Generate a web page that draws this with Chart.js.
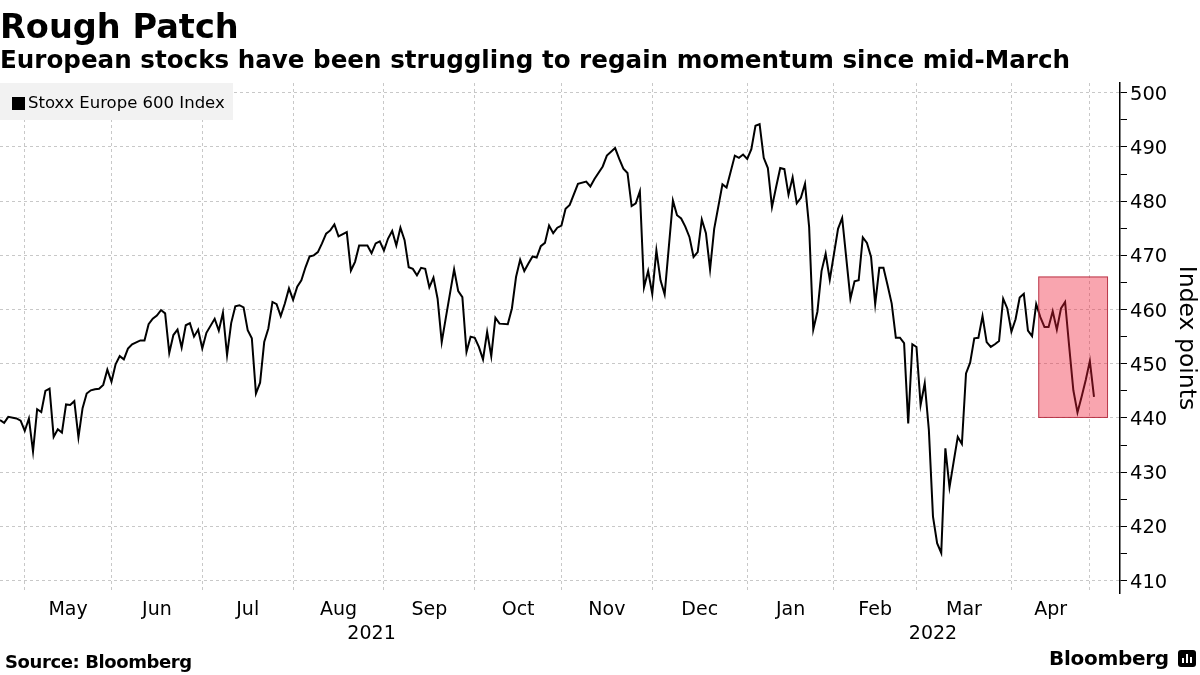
<!DOCTYPE html>
<html>
<head>
<meta charset="utf-8">
<script src="https://cdn.jsdelivr.net/npm/chart.js@4"></script>
<style>
  html, body { margin: 0; padding: 0; background: #fff; }
  #wrap { position: relative; width: 1200px; height: 675px; overflow: hidden; font-family: "DejaVu Sans", sans-serif; color: #000; }
  #chart { position: absolute; left: 0; top: 0; }
  .txt { position: absolute; white-space: nowrap; line-height: 1; }
  #title { left: 0; top: 10px; font-size: 33.6px; font-weight: bold; }
  #subtitle { left: 0; top: 48px; font-size: 24.6px; font-weight: bold; }
  #legend { position: absolute; left: 0; top: 83px; width: 233px; height: 37px; background: #f2f2f2; }
  #legend .mark { position: absolute; left: 12px; top: 14px; width: 13px; height: 13px; background: #000; }
  #legend .lbl { position: absolute; left: 28px; top: 12px; font-size: 16.5px; line-height: 1; white-space: nowrap; }
  #source { left: 5px; top: 653px; font-size: 18px; font-weight: bold; letter-spacing: -0.4px; }
  #brand { left: 1049px; top: 648px; font-size: 20px; font-weight: bold; letter-spacing: -0.3px; }
  #icon { position: absolute; left: 1178px; top: 650px; width: 18px; height: 17px; background: #000; border-radius: 3px; }
  #icon i { position: absolute; bottom: 4px; width: 2px; background: #fff; }
</style>
</head>
<body>
<div id="wrap">
  <canvas id="chart" width="1200" height="675"></canvas>
  <div id="title" class="txt">Rough Patch</div>
  <div id="subtitle" class="txt">European stocks have been struggling to regain momentum since mid-March</div>
  <div id="legend"><div class="mark"></div><div class="lbl">Stoxx Europe 600 Index</div></div>
  <div id="source" class="txt">Source: Bloomberg</div>
  <div id="brand" class="txt">Bloomberg</div>
  <div id="icon"><i style="left:4px;height:5px"></i><i style="left:8px;height:9px"></i><i style="left:12px;height:6px"></i></div>
</div>
<script>
// trading sessions counted from late April 2021 (0) to early May 2022 (265)
const sessions = [
  0, 1, 2, 4, 5, 6, 7, 8, 9, 10, 11, 12, 13, 14, 15, 16, 17, 18, 19, 20,
  21, 22, 23, 24, 25, 26, 27, 28, 29, 30, 31, 32, 34, 35, 36, 37, 38, 39, 40, 41,
  42, 43, 44, 45, 46, 47, 48, 49, 50, 52, 53, 54, 55, 56, 57, 58, 59, 60, 61, 62,
  63, 64, 65, 66, 67, 68, 69, 70, 71, 72, 73, 74, 75, 76, 77, 78, 79, 80, 81, 82,
  84, 85, 86, 87, 89, 90, 91, 92, 93, 94, 95, 96, 97, 98, 99, 100, 101, 102, 103, 104,
  105, 106, 107, 108, 110, 111, 112, 113, 114, 115, 116, 117, 118, 119, 120, 121, 123, 124, 125, 126,
  127, 128, 129, 130, 131, 132, 133, 134, 135, 136, 137, 138, 140, 142, 143, 144, 146, 147, 149, 150,
  151, 152, 153, 154, 155, 156, 157, 158, 159, 160, 161, 163, 164, 165, 166, 167, 168, 169, 170, 171,
  172, 173, 175, 176, 178, 179, 180, 181, 182, 183, 184, 185, 186, 187, 188, 189, 190, 191, 192, 193,
  194, 195, 196, 197, 198, 199, 200, 201, 203, 204, 206, 207, 208, 209, 210, 211, 212, 213, 214, 215,
  216, 217, 218, 219, 220, 221, 222, 223, 224, 225, 226, 227, 228, 229, 230, 231, 232, 233, 234, 235,
  236, 237, 238, 239, 240, 241, 242, 243, 244, 245, 246, 247, 248, 249, 250, 251, 252, 253, 254, 255,
  256, 257, 258, 259, 260, 261, 262, 263, 264, 265
];
const stoxx600 = [
  439.6, 439.1, 440.2, 439.9, 439.5, 437.6, 439.9, 433.8, 441.6, 441.1, 445.0, 445.4, 436.5, 437.9, 437.3, 442.5, 442.4, 443.1, 436.4, 441.8,
  444.5, 445.1, 445.3, 445.4, 446.1, 448.9, 446.7, 449.9, 451.4, 450.8, 452.8, 453.6, 454.3, 454.3, 457.3, 458.3, 458.9, 459.9, 459.3, 452.0,
  455.3, 456.3, 453.0, 457.1, 457.5, 455.0, 456.3, 452.8, 455.7, 458.3, 456.1, 459.4, 451.6, 457.5, 460.6, 460.8, 460.4, 456.2, 454.7, 444.5,
  446.5, 454.0, 456.5, 461.4, 461.0, 458.8, 461.1, 463.9, 461.8, 464.2, 465.4, 467.8, 469.8, 470.0, 470.6, 472.2, 474.0, 474.6, 475.7, 473.5,
  474.3, 467.2, 468.8, 471.8, 471.8, 470.4, 472.2, 472.6, 470.9, 473.1, 474.5, 471.8, 475.1, 472.8, 467.8, 467.5, 466.3, 467.7, 467.5, 464.1,
  465.9, 462.0, 454.0, 458.5, 467.4, 463.4, 462.3, 452.2, 455.0, 454.8, 453.1, 450.8, 455.9, 451.4, 458.5, 457.4, 457.3, 460.2, 466.0, 469.2,
  467.1, 468.5, 469.8, 469.6, 471.7, 472.3, 475.5, 474.1, 475.1, 475.5, 478.6, 479.3, 483.2, 483.6, 482.7, 484.1, 486.4, 488.4, 489.8, 487.8,
  486.0, 485.2, 479.1, 479.6, 481.8, 464.1, 467.1, 462.9, 470.9, 465.4, 462.8, 480.1, 477.4, 476.8, 475.3, 473.4, 469.7, 470.6, 476.6, 474.1,
  467.4, 474.9, 483.1, 482.5, 488.4, 488.0, 488.6, 487.8, 489.6, 493.9, 494.2, 488.0, 486.1, 478.9, 482.6, 486.1, 485.9, 481.2, 484.4, 479.6,
  480.6, 483.2, 475.2, 456.3, 459.6, 467.1, 470.3, 465.5, 474.9, 476.9, 462.0, 465.2, 465.4, 473.3, 472.3, 469.7, 461.0, 467.7, 467.7, 464.5,
  461.1, 454.8, 454.8, 453.8, 439.0, 453.6, 453.1, 442.4, 446.4, 437.8, 421.8, 416.9, 415.1, 434.4, 427.2, 431.9, 436.5, 435.2, 448.2, 450.2,
  454.7, 454.8, 458.8, 454.0, 453.1, 453.6, 454.2, 462.0, 460.2, 455.9, 458.2, 462.2, 462.9, 456.1, 455.1, 461.0, 458.6, 456.8, 456.8, 459.7,
  456.3, 460.2, 461.4, 453.1, 445.1, 441.0, 443.9, 447.0, 450.5, 443.9
];

// first session of each month, May 2021 .. May 2022
const monthStarts = [6, 27, 49, 71, 93, 115, 136, 158, 181, 202, 222, 245, 264];
const monthNames = ["May", "Jun", "Jul", "Aug", "Sep", "Oct", "Nov", "Dec", "Jan", "Feb", "Mar", "Apr"];
const yearPos = [90, 226];
const yearNames = ["2021", "2022"];
const yLabelTicks = [410, 420, 430, 440, 450, 460, 470, 480, 490, 500];
const yMinorTicks = [415, 425, 435, 445, 455, 465, 475, 485, 495];

// highlighted stretch since mid-March
const boxFrom = 251.5, boxTo = 268.4, boxLow = 440, boxHigh = 466.1;

const xMin = 0, xMax = 271.3;
const yMin = 407.7, yMax = 501.8;

const monthMids = monthNames.map((_, i) => (monthStarts[i] + monthStarts[i + 1]) / 2);
const yAllTicks = yLabelTicks.concat(yMinorTicks).sort((a, b) => a - b);

Chart.defaults.font.family = '"DejaVu Sans", sans-serif';
Chart.defaults.color = "#000";

const highlightBox = {
  id: "highlightBox",
  afterDatasetsDraw(chart) {
    const { ctx, scales } = chart;
    const l = scales.x.getPixelForValue(boxFrom);
    const r = scales.x.getPixelForValue(boxTo);
    const t = scales.y.getPixelForValue(boxHigh);
    const b = scales.y.getPixelForValue(boxLow);
    ctx.save();
    ctx.fillStyle = "rgba(240,30,55,0.4)";
    ctx.fillRect(l, t, r - l, b - t);
    ctx.strokeStyle = "rgba(170,30,50,0.8)";
    ctx.lineWidth = 1;
    ctx.strokeRect(l + 0.5, t + 0.5, r - l - 1, b - t - 1);
    ctx.restore();
  }
};

new Chart(document.getElementById("chart"), {
  type: "line",
  data: {
    datasets: [{
      label: "Stoxx Europe 600 Index",
      data: sessions.map((s, i) => ({ x: s, y: stoxx600[i] })),
      borderColor: "#000",
      borderWidth: 2,
      pointRadius: 0,
      tension: 0,
      xAxisID: "x",
      yAxisID: "y"
    }]
  },
  options: {
    responsive: false,
    animation: false,
    devicePixelRatio: 1,
    layout: { padding: { top: 83, left: 0, right: 0, bottom: 0 } },
    plugins: { legend: { display: false }, tooltip: { enabled: false } },
    scales: {
      x: {
        type: "linear", position: "bottom", weight: 0, bounds: "data",
        min: xMin, max: xMax,
        afterBuildTicks: s => { s.ticks = monthStarts.map(v => ({ value: v })); },
        afterFit: s => { s.height = 4; },
        grid: { color: "#c8c8c8", lineWidth: 1, drawTicks: false },
        border: { display: false, dash: [3, 3] },
        ticks: { display: false }
      },
      xm: {
        type: "linear", position: "bottom", weight: 1, bounds: "data",
        min: xMin, max: xMax,
        afterBuildTicks: s => { s.ticks = monthMids.map(v => ({ value: v })); },
        afterFit: s => { s.height = 24; },
        grid: { display: false, drawTicks: false },
        border: { display: false },
        ticks: { autoSkip: false, maxRotation: 0, padding: 2, font: { size: 19 }, callback: (v, i) => monthNames[i] }
      },
      xy: {
        type: "linear", position: "bottom", weight: 2, bounds: "data",
        min: xMin, max: xMax,
        afterBuildTicks: s => { s.ticks = yearPos.map(v => ({ value: v })); },
        afterFit: s => { s.height = 54; },
        grid: { display: false, drawTicks: false },
        border: { display: false },
        ticks: { autoSkip: false, maxRotation: 0, padding: 2, font: { size: 19 }, callback: (v, i) => yearNames[i] }
      },
      y: {
        position: "right", bounds: "data",
        min: yMin, max: yMax,
        afterBuildTicks: s => { s.ticks = yAllTicks.map(v => ({ value: v })); },
        afterFit: s => { s.width = 80; },
        grid: {
          color: c => (c.tick && c.tick.value % 10 === 0) ? "#c8c8c8" : "rgba(0,0,0,0)",
          tickColor: "#000",
          tickLength: 7,
          lineWidth: 1
        },
        border: { display: true, color: "#000", width: 1.5, dash: [3, 3] },
        ticks: {
          autoSkip: false, padding: 3, labelOffset: 2, font: { size: 19.5 },
          callback: v => (v % 10 === 0 ? String(v) : "")
        },
        title: { display: true, text: "Index points", font: { size: 23.5 }, padding: { top: 0, bottom: 1 } }
      }
    }
  },
  plugins: [highlightBox]
});
</script>
</body>
</html>
